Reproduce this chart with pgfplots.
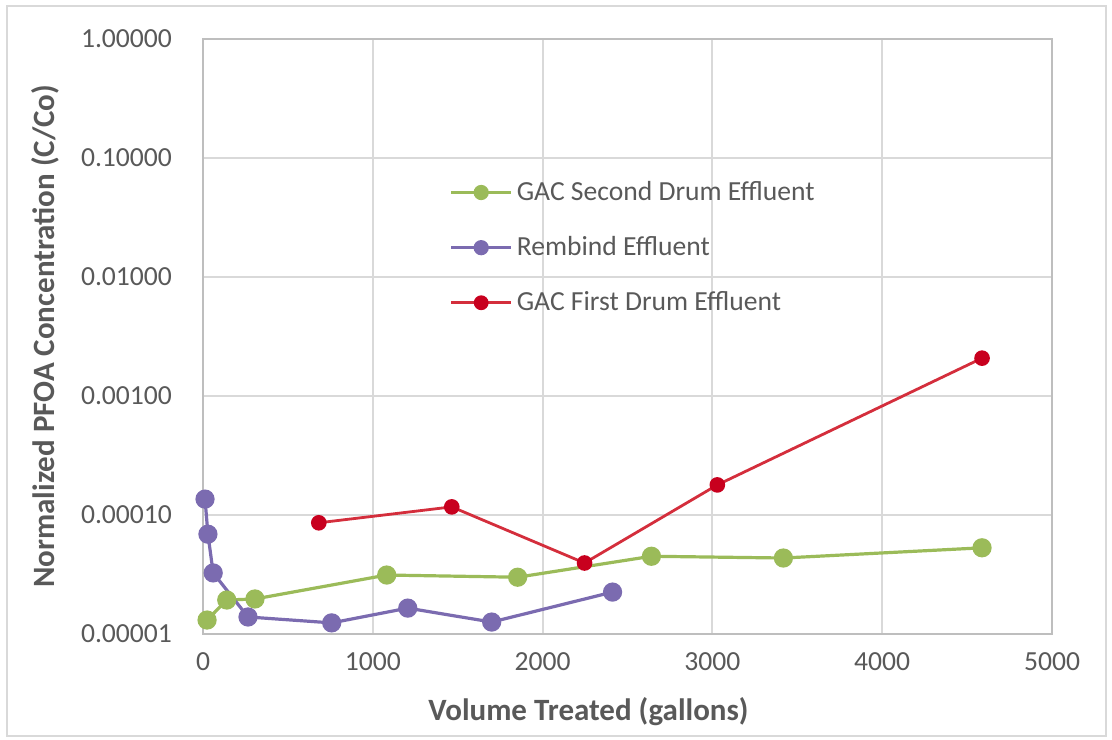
\documentclass[border=0pt]{standalone}
\usepackage{pgfplots}
\pgfplotsset{compat=1.18}
\usepackage{fontspec}
\setmainfont{Carlito}
\definecolor{gacg}{HTML}{9BBB59}
\definecolor{remb}{HTML}{7B6BB0}
\definecolor{redl}{HTML}{D42E3C}
\definecolor{redm}{HTML}{C8001E}
\definecolor{txt}{HTML}{595959}
\definecolor{grd}{HTML}{D9D9D9}
\begin{document}
\begin{tikzpicture}
\begin{axis}[
  name=ax,
  scale only axis,
  width=424.5pt, height=297.5pt,
  xmin=0, xmax=5000,
  ymode=log, log basis y=10,
  ymin=1e-5, ymax=1,
  xtick={0,1000,2000,3000,4000,5000},
  xticklabels={0,1000,2000,3000,4000,5000},
  ytick={1e-5,1e-4,1e-3,1e-2,1e-1,1},
  yticklabels={0.00001,0.00010,0.00100,0.01000,0.10000,1.00000},
  minor ytick={},
  grid=major,
  major grid style={grd, line width=1pt},
  axis line style={grd!70!gray, line width=1pt},
  tick style={draw=none},
  ticklabel style={font=\fontsize{13.8}{16}\selectfont, text=txt},
  yticklabel style={xshift=-12pt},
  xticklabel style={yshift=-6pt},
  xlabel={Volume Treated (gallons)},
  ylabel={Normalized PFOA Concentration (C/Co)},
  xlabel style={font=\fontsize{15.5}{18}\selectfont\bfseries, text=txt, at={(axis description cs:0.5,0)}, anchor=center, yshift=-39pt, xshift=-19.5pt},
  ylabel style={font=\fontsize{15.5}{18}\selectfont\bfseries, text=txt, at={(axis description cs:0,0.5)}, anchor=center, yshift=79pt, xshift=0pt},
  legend style={at={(axis description cs:0.29,0.768)}, anchor=north west, draw=none, fill=none,
    font=\fontsize{13.8}{16}\selectfont, text=txt, row sep=12.5pt, inner sep=0pt},
  legend cell align=left,
  legend image code/.code={
    \draw[#1] (0pt,0pt) -- (30pt,0pt);
    \draw[#1, mark repeat=1, mark size=3pt] plot coordinates {(15pt,0pt)};
  },
  clip=false,
]
\addplot[gacg, line width=1.6pt, mark=*, mark size=4pt, mark options={fill=gacg, draw=gacg}] coordinates {
 (24,1.31e-5) (140,1.93e-5) (306,1.97e-5) (1082,3.13e-5) (1853,3.0e-5) (2641,4.5e-5) (3418,4.35e-5) (4588,5.3e-5)
};
\addlegendentry{GAC Second Drum Effluent}
\addplot[remb, line width=1.6pt, mark=*, mark size=4pt, mark options={fill=remb, draw=remb}] coordinates {
 (12,1.36e-4) (29,6.9e-5) (60,3.26e-5) (265,1.39e-5) (758,1.24e-5) (1206,1.65e-5) (1700,1.26e-5) (2412,2.25e-5)
};
\addlegendentry{Rembind Effluent}
\addplot[redl, line width=1.4pt, mark=*, mark size=3.2pt, mark options={fill=redm, draw=redm}] coordinates {
 (682,8.6e-5) (1465,1.17e-4) (2247,3.95e-5) (3029,1.79e-4) (4588,2.08e-3)
};
\addlegendentry{GAC First Drum Effluent}
\end{axis}
\pgfresetboundingbox
\draw[grd, line width=0.8pt] ([xshift=-98pt,yshift=-51pt]ax.south west) rectangle ([xshift=27pt,yshift=16.5pt]ax.north east);
\path ([xshift=-101.5pt,yshift=-53pt]ax.south west) rectangle ([xshift=30pt,yshift=19.5pt]ax.north east);
\end{tikzpicture}
\end{document}
